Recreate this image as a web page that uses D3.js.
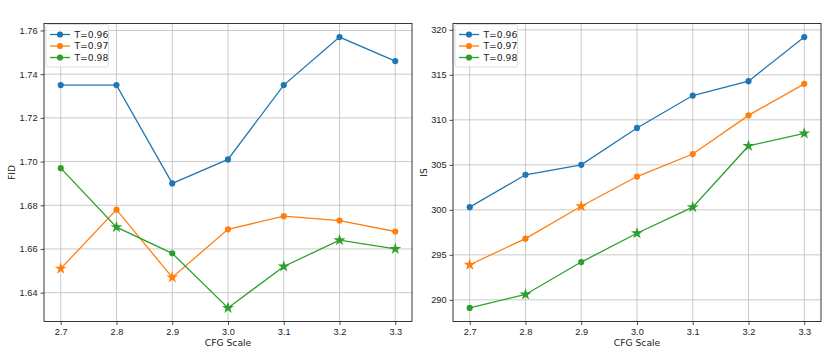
<!DOCTYPE html>
<html lang="en">
<head>
    <meta charset="UTF-8">
    <title>FID / IS vs CFG Scale</title>
    <script src="https://cdnjs.cloudflare.com/ajax/libs/d3/7.8.5/d3.min.js"></script>
    <style>
        body { margin: 0; padding: 0; background: white; }
        svg { font-family: "DejaVu Sans", sans-serif; display: block; }
        .grid line { stroke: #c4c4c4; stroke-width: 0.9px; }
        .tick text { font-size: 9.2px; fill: #222; }
    </style>
</head>
<body>
<div id="chart"></div>
<script>
    // data
    const cfgScales = [2.7, 2.8, 2.9, 3.0, 3.1, 3.2, 3.3];
    const temps = ['T=0.96', 'T=0.97', 'T=0.98'];
    const colors = ['#1f77b4', '#ff7f0e', '#2ca02c'];

    const fid096 = [1.735, 1.735, 1.690, 1.701, 1.735, 1.757, 1.746];
    const fid097 = [1.651, 1.678, 1.647, 1.669, 1.675, 1.673, 1.668];
    const fid098 = [1.697, 1.670, 1.658, 1.633, 1.652, 1.664, 1.660];

    const is096 = [300.3, 303.9, 305.0, 309.1, 312.7, 314.3, 319.2];
    const is097 = [293.9, 296.8, 300.4, 303.7, 306.2, 310.5, 314.0];
    const is098 = [289.1, 290.6, 294.2, 297.4, 300.3, 307.1, 308.5];

    // which temperature gets the star (best FID) at each cfg scale
    const bestTemp = [1, 2, 1, 2, 2, 2, 2];

    const fidTicks = [1.64, 1.66, 1.68, 1.70, 1.72, 1.74, 1.76];
    const isTicks = [290, 295, 300, 305, 310, 315, 320];

    const width = 830, height = 356;
    const svg = d3.select('#chart').append('svg')
        .attr('width', width).attr('height', height);

    function drawPanel(opts) {
        const { left, right, top, bottom, series, ticks, fmt, label, labelX } = opts;
        const all = series.flat();
        const lo = d3.min(all), hi = d3.max(all), pad = (hi - lo) * 0.05;

        const x = d3.scaleLinear().domain([2.67, 3.33]).range([left, right]);
        const y = d3.scaleLinear().domain([lo - pad, hi + pad]).range([bottom, top]);

        const g = svg.append('g');

        // grid
        g.append('g').attr('class', 'grid')
            .selectAll('line.v').data(cfgScales).enter().append('line')
            .attr('x1', d => x(d)).attr('x2', d => x(d))
            .attr('y1', top).attr('y2', bottom);
        g.append('g').attr('class', 'grid')
            .selectAll('line.h').data(ticks).enter().append('line')
            .attr('x1', left).attr('x2', right)
            .attr('y1', d => y(d)).attr('y2', d => y(d));

        // axes
        const xAxis = g.append('g').attr('transform', `translate(0,${bottom})`)
            .call(d3.axisBottom(x).tickValues(cfgScales).tickFormat(d3.format('.1f')).tickSize(3.5).tickPadding(3));
        const yAxis = g.append('g').attr('transform', `translate(${left},0)`)
            .call(d3.axisLeft(y).tickValues(ticks).tickFormat(fmt).tickSize(3.5).tickPadding(3));
        [xAxis, yAxis].forEach(a => {
            a.select('.domain').remove();
            a.selectAll('.tick line').attr('stroke', '#222').attr('stroke-width', 0.8);
        });

        // frame
        g.append('rect')
            .attr('x', left).attr('y', top)
            .attr('width', right - left).attr('height', bottom - top)
            .attr('fill', 'none').attr('stroke', '#222').attr('stroke-width', 0.9);

        // lines and markers
        const line = d3.line().x((d, i) => x(cfgScales[i])).y(d => y(d));
        series.forEach((vals, si) => {
            g.append('path').datum(vals)
                .attr('d', line)
                .attr('fill', 'none')
                .attr('stroke', colors[si])
                .attr('stroke-width', 1.3);
            g.selectAll(null).data(vals).enter().append('path')
                .attr('transform', (d, i) => `translate(${x(cfgScales[i])},${y(d)})`)
                .attr('d', (d, i) => bestTemp[i] === si
                    ? d3.symbol(d3.symbolStar, 44)()
                    : d3.symbol(d3.symbolCircle, 30)())
                .attr('fill', colors[si]);
        });

        // legend
        const lg = g.append('g').attr('transform', `translate(${left + 2},${top + 1})`);
        lg.append('rect')
            .attr('width', 62.5).attr('height', 42.5)
            .attr('rx', 2)
            .attr('fill', 'white').attr('fill-opacity', 0.8)
            .attr('stroke', '#d5d5d5').attr('stroke-width', 0.8);
        temps.forEach((t, i) => {
            const ly = 10 + i * 11.5;
            lg.append('line')
                .attr('x1', 4).attr('x2', 24).attr('y1', ly).attr('y2', ly)
                .attr('stroke', colors[i]).attr('stroke-width', 1.3);
            lg.append('circle').attr('cx', 14).attr('cy', ly).attr('r', 3.1).attr('fill', colors[i]);
            lg.append('text')
                .attr('x', 28.5).attr('y', ly).attr('dy', '0.35em')
                .attr('font-size', 9.2).attr('fill', '#222')
                .text(t);
        });

        // axis labels
        g.append('text')
            .attr('x', (left + right) / 2).attr('y', bottom + 24)
            .attr('text-anchor', 'middle').attr('font-size', 9.2).attr('fill', '#222')
            .text('CFG Scale');
        g.append('text')
            .attr('transform', `translate(${labelX},${(top + bottom) / 2}) rotate(-90)`)
            .attr('text-anchor', 'middle').attr('font-size', 9.2).attr('fill', '#222')
            .text(label);
    }

    drawPanel({
        left: 44, right: 412, top: 23.5, bottom: 321.5,
        series: [fid096, fid097, fid098],
        ticks: fidTicks, fmt: d3.format('.2f'),
        label: 'FID', labelX: 15
    });

    drawPanel({
        left: 453, right: 821, top: 23.5, bottom: 321.5,
        series: [is096, is097, is098],
        ticks: isTicks, fmt: d3.format('d'),
        label: 'IS', labelX: 427
    });
</script>
</body>
</html>
